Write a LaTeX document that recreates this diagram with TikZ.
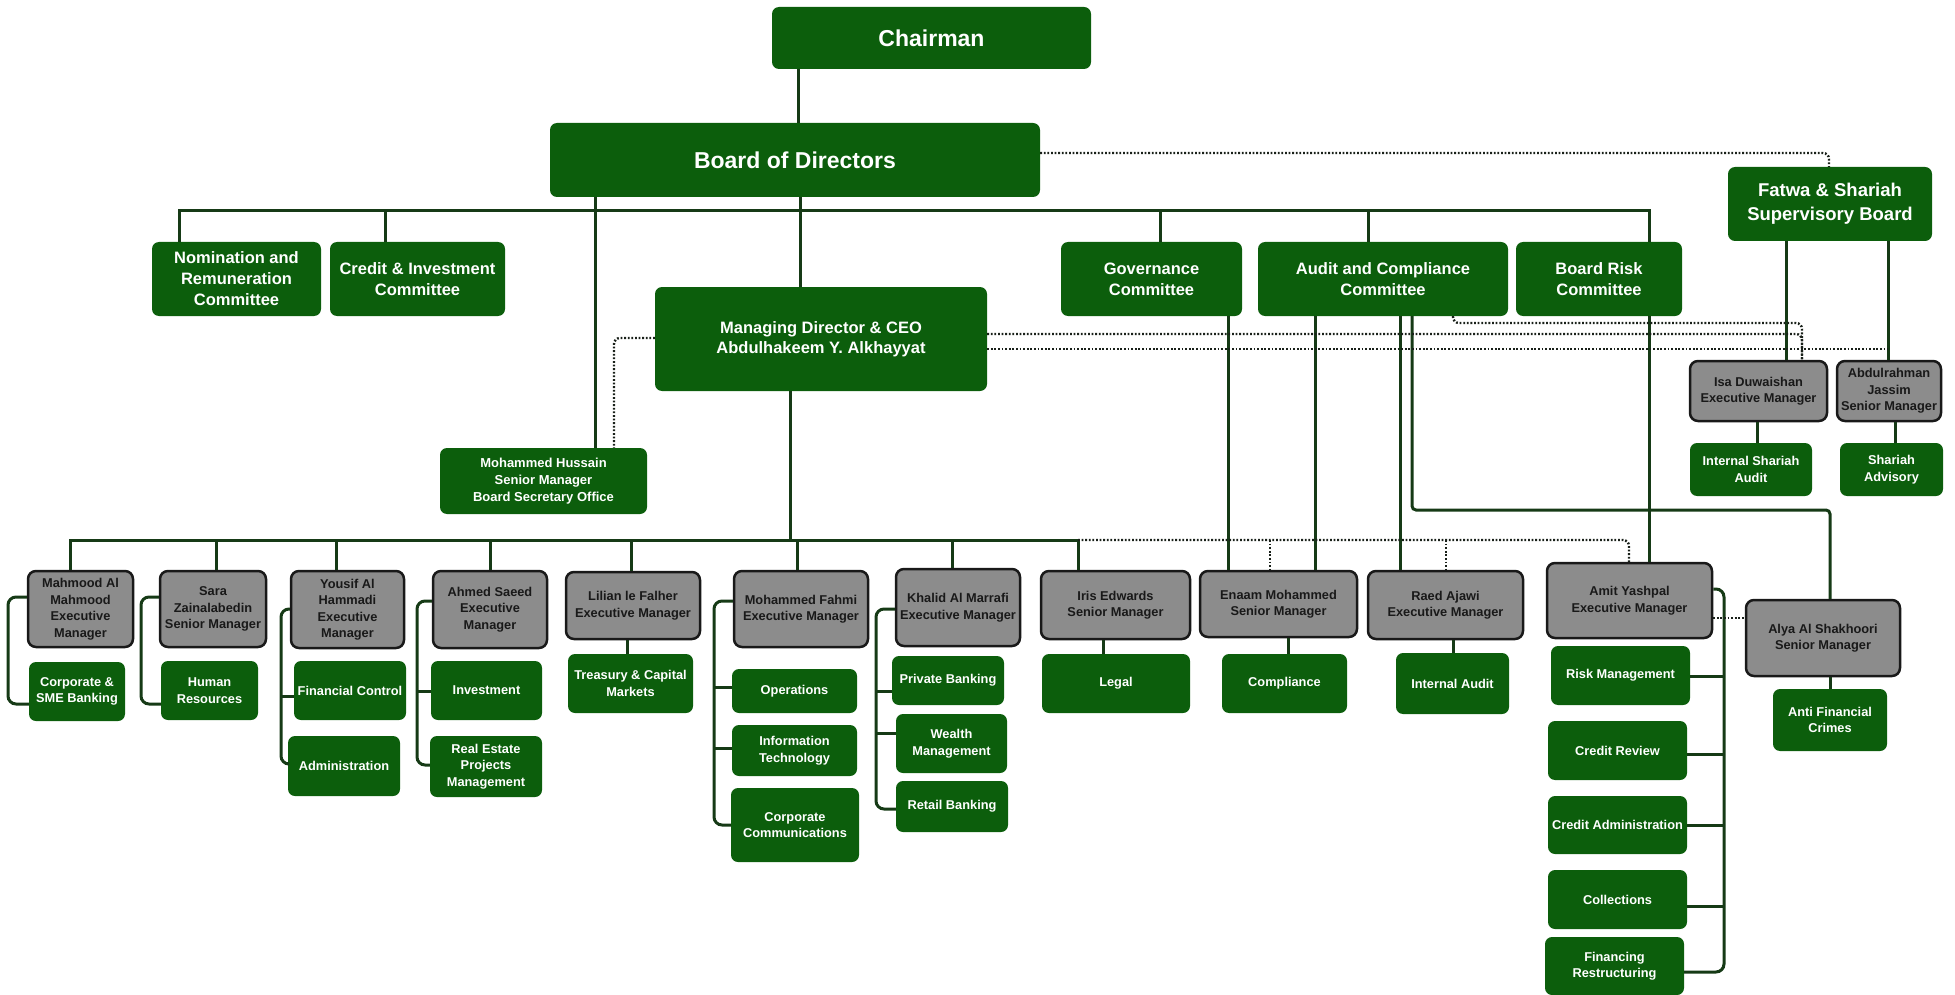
\documentclass[tikz,border=0pt]{standalone}
\usepackage{fontspec}
\setmainfont{Liberation Sans}
\definecolor{dgreen}{RGB}{12,94,12}
\definecolor{lgreen}{RGB}{22,58,22}
\definecolor{boxgray}{RGB}{140,140,140}
\definecolor{dotcol}{RGB}{25,32,25}
\tikzset{
  gbox/.style={fill=dgreen, rounded corners=7pt, text=white, align=center, inner sep=0pt,
    font=\bfseries\fontsize{12.8}{16.5}\selectfont},
  ybox/.style={draw=black!90, line width=2.5pt, fill=boxgray, rounded corners=8pt, text=black!90,
    align=center, inner sep=0pt, font=\bfseries\fontsize{12.8}{16.5}\selectfont},
  comfont/.style={font=\bfseries\fontsize{16.5}{21}\selectfont},
  bigfont/.style={font=\bfseries\fontsize{23}{27}\selectfont},
  conn/.style={draw=lgreen, line width=3pt},
  dotln/.style={draw=dotcol, line width=2.4pt, dash pattern=on 1.8pt off 1.8pt, rounded corners=6pt},
}
\begin{document}
\begin{tikzpicture}[x=1pt,y=-1pt]
\useasboundingbox (0,0) rectangle (1955,995);
% ---------- top level ----------
\node[gbox,bigfont,minimum width=319,minimum height=62] (chair) at (931.5,38) {Chairman};
\node[gbox,bigfont,minimum width=490,minimum height=74] (bod) at (795,160) {Board of Directors};
\node[gbox,comfont,minimum width=169,minimum height=74] (nom) at (236.5,279) {Nomination and\\Remuneration\\Committee};
\node[gbox,comfont,minimum width=175,minimum height=74] (cic) at (417.5,279) {Credit \& Investment\\Committee};
\node[gbox,comfont,minimum width=181,minimum height=74] (gov) at (1151.5,279) {Governance\\Committee};
\node[gbox,comfont,minimum width=250,minimum height=74] (aud) at (1383,279) {Audit and Compliance\\Committee};
\node[gbox,comfont,minimum width=166,minimum height=74] (risk) at (1599,279) {Board Risk\\Committee};
\node[gbox,font=\bfseries\fontsize{18.5}{24}\selectfont,minimum width=204,minimum height=74] (fatwa) at (1830,204) {Fatwa \& Shariah\\Supervisory Board};
\node[gbox,font=\bfseries\fontsize{16.5}{20}\selectfont,minimum width=332,minimum height=104] (ceo) at (821,339) {Managing Director \& CEO\\Abdulhakeem Y. Alkhayyat};
\node[gbox,font=\bfseries\fontsize{13}{17}\selectfont,minimum width=207,minimum height=66] (mh) at (543.5,481) {Mohammed Hussain\\Senior Manager\\Board Secretary Office};
% ---------- managers ----------
\node[ybox,minimum width=105,minimum height=76] (mahmood) at (80.5,609) {Mahmood Al\\Mahmood\\Executive\\Manager};
\node[ybox,minimum width=106,minimum height=76] (sara) at (213,609) {Sara\\Zainalabedin\\Senior Manager};
\node[ybox,minimum width=113,minimum height=77] (yousif) at (347.5,609.5) {Yousif Al\\Hammadi\\Executive\\Manager};
\node[ybox,minimum width=114,minimum height=77] (ahmed) at (490,609.5) {Ahmed Saeed\\Executive\\Manager};
\node[ybox,minimum width=134,minimum height=67] (lilian) at (633,605.5) {Lilian le Falher\\Executive Manager};
\node[ybox,minimum width=134,minimum height=76] (fahmi) at (801,609) {Mohammed Fahmi\\Executive Manager};
\node[ybox,minimum width=124,minimum height=77] (khalid) at (958,607.5) {Khalid Al Marrafi\\Executive Manager};
\node[ybox,minimum width=149,minimum height=68] (iris) at (1115.5,605) {Iris Edwards\\Senior Manager};
\node[ybox,minimum width=157,minimum height=66] (enaam) at (1278.5,604) {Enaam Mohammed\\Senior Manager};
\node[ybox,minimum width=155,minimum height=68] (raed) at (1445.5,605) {Raed Ajawi\\Executive Manager};
\node[ybox,minimum width=165,minimum height=75] (amit) at (1629.5,600.5) {Amit Yashpal\\Executive Manager};
\node[ybox,minimum width=154,minimum height=76] (alya) at (1823,638) {Alya Al Shakhoori\\Senior Manager};
\node[ybox,minimum width=137,minimum height=60] (isa) at (1758.5,391) {Isa Duwaishan\\Executive Manager};
\node[ybox,minimum width=104,minimum height=60] (abdul) at (1889,391) {Abdulrahman\\Jassim\\Senior Manager};
% ---------- departments ----------
\node[gbox,minimum width=96,minimum height=59] (corp) at (77,691.5) {Corporate \&\\SME Banking};
\node[gbox,minimum width=97,minimum height=59] (hr) at (209.5,690.5) {Human\\Resources};
\node[gbox,minimum width=112,minimum height=59] (fc) at (350,690.5) {Financial Control};
\node[gbox,minimum width=112,minimum height=60] (admin) at (344,766) {Administration};
\node[gbox,minimum width=111,minimum height=59] (inv) at (486.5,690.5) {Investment};
\node[gbox,minimum width=112,minimum height=61] (reps) at (486,766.5) {Real Estate\\Projects\\Management};
\node[gbox,minimum width=125,minimum height=59] (tcm) at (630.5,683.5) {Treasury \& Capital\\Markets};
\node[gbox,minimum width=125,minimum height=44] (ops) at (794.5,691) {Operations};
\node[gbox,minimum width=125,minimum height=51] (it) at (794.5,750.5) {Information\\Technology};
\node[gbox,minimum width=128,minimum height=74] (cc) at (795,825) {Corporate\\Communications};
\node[gbox,minimum width=112,minimum height=49] (pb) at (948,680.5) {Private Banking};
\node[gbox,minimum width=111,minimum height=59] (wm) at (951.5,743.5) {Wealth\\Management};
\node[gbox,minimum width=112,minimum height=51] (rb) at (952,806.5) {Retail Banking};
\node[gbox,minimum width=148,minimum height=59] (legal) at (1116,683.5) {Legal};
\node[gbox,minimum width=125,minimum height=59] (comp) at (1284.5,683.5) {Compliance};
\node[gbox,minimum width=113,minimum height=61] (ia) at (1452.5,683.5) {Internal Audit};
\node[gbox,minimum width=139,minimum height=59] (rm) at (1620.5,675.5) {Risk Management};
\node[gbox,minimum width=139,minimum height=59] (cr) at (1617.5,750.5) {Credit Review};
\node[gbox,minimum width=139,minimum height=58] (ca) at (1617.5,825) {Credit Administration};
\node[gbox,minimum width=139,minimum height=59] (coll) at (1617.5,899.5) {Collections};
\node[gbox,minimum width=139,minimum height=58] (fr) at (1614.5,966) {Financing\\Restructuring};
\node[gbox,minimum width=114,minimum height=62] (afc) at (1830,720) {Anti Financial\\Crimes};
\node[gbox,minimum width=122,minimum height=53] (isaud) at (1751,469.5) {Internal Shariah\\Audit};
\node[gbox,minimum width=103,minimum height=53] (shadv) at (1891.5,469.5) {Shariah\\Advisory};
% ---------- solid connectors ----------
\draw[conn] (chair.south -| 798,0) -- (bod.north -| 798,0);
\draw[conn] (nom.north -| 179,0) -- (179,211) -- (1649,211) -- (risk.north -| 1649,0);
\draw[conn] (385,211) -- (cic.north -| 385,0);
\draw[conn] (1160,211) -- (gov.north -| 1160,0);
\draw[conn] (1368,211) -- (aud.north -| 1368,0);
\draw[conn] (bod.south -| 800,0) -- (ceo.north -| 800,0);
\draw[conn] (bod.south -| 595,0) -- (mh.north -| 595,0);
\draw[conn] (fatwa.south -| 1786,0) -- (isa.north -| 1786,0);
\draw[conn] (fatwa.south -| 1888,0) -- (abdul.north -| 1888,0);
\draw[conn] (isa.south -| 1757,0) -- (isaud.north -| 1757,0);
\draw[conn] (abdul.south -| 1895,0) -- (shadv.north -| 1895,0);
\draw[conn] (gov.south -| 1228,0) -- (enaam.north -| 1228,0);
\draw[conn] (aud.south -| 1315,0) -- (enaam.north -| 1315,0);
\draw[conn] (aud.south -| 1400,0) -- (raed.north -| 1400,0);
\draw[conn,rounded corners=4pt] (aud.south -| 1412,0) -- (1412,510) -- (1830,510) -- (alya.north -| 1830,0);
\draw[conn] (risk.south -| 1649,0) -- (amit.north -| 1649,0);
\draw[conn] (ceo.south -| 790,0) -- (790,540);
\draw[conn] (mahmood.north -| 70,0) -- (70,540) -- (1078,540) -- (iris.north -| 1078,0);
\draw[conn] (216,540) -- (sara.north -| 216,0);
\draw[conn] (336,540) -- (yousif.north -| 336,0);
\draw[conn] (490,540) -- (ahmed.north -| 490,0);
\draw[conn] (631,540) -- (lilian.north -| 631,0);
\draw[conn] (797,540) -- (fahmi.north -| 797,0);
\draw[conn] (952,540) -- (khalid.north -| 952,0);
\draw[conn] (lilian.south -| 627,0) -- (tcm.north -| 627,0);
\draw[conn] (iris.south -| 1103,0) -- (legal.north -| 1103,0);
\draw[conn] (enaam.south -| 1288,0) -- (comp.north -| 1288,0);
\draw[conn] (raed.south -| 1453,0) -- (ia.north -| 1453,0);
\draw[conn] (alya.south -| 1830,0) -- (afc.north -| 1830,0);
% brackets
\begin{scope}[rounded corners=8pt]
\draw[conn] (mahmood.west |- 0,597) -- (8,597) -- (8,704) -- (corp.west |- 0,704);
\draw[conn] (sara.west |- 0,597) -- (141,597) -- (141,704) -- (hr.west |- 0,704);
\draw[conn] (yousif.west |- 0,609) -- (281,609) -- (281,764) -- (admin.west |- 0,764);
\draw[conn] (ahmed.west |- 0,601) -- (417,601) -- (417,765) -- (reps.west |- 0,765);
\draw[conn] (fahmi.west |- 0,601) -- (714,601) -- (714,825) -- (cc.west |- 0,825);
\draw[conn] (khalid.west |- 0,609) -- (876,609) -- (876,809) -- (rb.west |- 0,809);
\draw[conn] (amit.east |- 0,589) -- (1724,589) -- (1724,972) -- (fr.east |- 0,972);
\end{scope}
\draw[conn] (281,696) -- (fc.west |- 0,696);
\draw[conn] (417,691) -- (inv.west |- 0,691);
\draw[conn] (714,687) -- (ops.west |- 0,687);
\draw[conn] (714,748) -- (it.west |- 0,748);
\draw[conn] (876,691) -- (pb.west |- 0,691);
\draw[conn] (876,733) -- (wm.west |- 0,733);
\draw[conn] (1724,676) -- (rm.east |- 0,676);
\draw[conn] (1724,754) -- (cr.east |- 0,754);
\draw[conn] (1724,825) -- (ca.east |- 0,825);
\draw[conn] (1724,906) -- (coll.east |- 0,906);
% ---------- dotted connectors ----------
\coordinate (abj) at (1888,349);
\draw[dotln] (ceo.west |- 0,338) -- (614,338) -- (mh.north -| 614,0);
\draw[dotln] (bod.east |- 0,153) -- (1829,153) -- (fatwa.north -| 1829,0);
\draw[dotln] (aud.south -| 1453,0) -- (1453,323) -- (1802,323) -- (isa.north -| 1802,0);
\draw[dotln] (ceo.east |- 0,334) -- (1802,334) -- (isa.north -| 1802,0);
\draw[dotln] (ceo.east |- 0,349) -- (abj);
\draw[dotln] (1078,540) -- (1629,540) -- (amit.north -| 1629,0);
\draw[dotln] (1270,540) -- (enaam.north -| 1270,0);
\draw[dotln] (1446,540) -- (raed.north -| 1446,0);
\draw[dotln] (amit.east |- 0,618) -- (alya.west |- 0,618);
\end{tikzpicture}
\end{document}
